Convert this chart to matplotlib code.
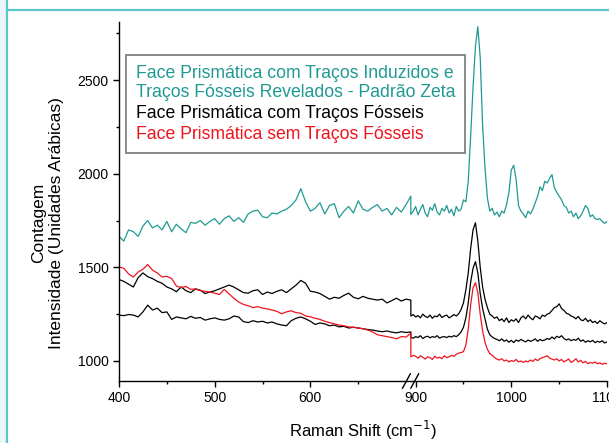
import numpy as np
import matplotlib
matplotlib.use('Agg')
import matplotlib.pyplot as plt
from matplotlib.lines import Line2D
from matplotlib.patches import Rectangle

plt.rcParams['font.family'] = ['Liberation Sans', 'DejaVu Sans']

# -------------------------------
# Data
# -------------------------------
# x grid: left part 400-705, right part 895-1100 (the axis is broken in between)
x_left = np.arange(400, 706, 5)
x_right = np.arange(895, 1100.1, 2.5)

teal_left = [1665, 1640, 1700, 1690, 1665, 1720, 1750, 1710, 1725, 1700,
             1745, 1690, 1730, 1705, 1685, 1740, 1735, 1750, 1725, 1745,
             1760, 1730, 1760, 1775, 1745, 1765, 1740, 1785, 1800, 1805,
             1770, 1765, 1790, 1785, 1800, 1810, 1830, 1860, 1920, 1850,
             1800, 1815, 1845, 1785, 1830, 1840, 1765, 1800, 1825, 1790,
             1855, 1810, 1800, 1820, 1835, 1800, 1815, 1780, 1820, 1795,
             1835, 1880]
teal_right = [1782, 1800, 1825, 1780, 1810, 1835, 1790, 1770, 1820, 1805,
              1840, 1795, 1780, 1815, 1800, 1830, 1790, 1810, 1775, 1825,
              1800, 1810, 1860, 1850, 1960, 2200, 2460, 2680, 2785, 2620,
              2260, 2030, 1870, 1800, 1815, 1780, 1795, 1770, 1800, 1790,
              1835, 1900, 2020, 2045, 1970, 1830, 1800, 1785, 1765, 1800,
              1785, 1810, 1845, 1880, 1930, 1910, 1960, 1950, 1975, 1995,
              1925, 1900, 1880, 1860, 1830, 1820, 1790, 1800, 1770, 1790,
              1760, 1775, 1800, 1830, 1815, 1770, 1780, 1760, 1755, 1760,
              1745, 1735, 1745]

black1_left = [1435, 1425, 1410, 1395, 1445, 1470, 1450, 1440, 1425, 1415,
               1395, 1385, 1370, 1395, 1375, 1365, 1385, 1378, 1360, 1368,
               1375, 1385, 1395, 1405, 1395, 1380, 1365, 1362, 1375, 1380,
               1355, 1368, 1360, 1372, 1380, 1365, 1385, 1405, 1430, 1415,
               1372, 1368, 1360, 1345, 1330, 1340, 1335, 1350, 1362, 1340,
               1332, 1345, 1335, 1330, 1325, 1330, 1310, 1322, 1335, 1320,
               1330, 1325]
black1_right = [1240, 1248, 1235, 1242, 1230, 1250, 1238, 1232, 1245, 1228,
                1240, 1236, 1250, 1232, 1240, 1245, 1230, 1238, 1248, 1240,
                1252, 1275, 1310, 1380, 1470, 1600, 1700, 1738, 1640, 1500,
                1395, 1330, 1285, 1250, 1240, 1228, 1235, 1215, 1225, 1210,
                1230, 1205, 1220, 1212, 1225, 1205, 1230, 1240, 1225, 1245,
                1230, 1220, 1240, 1235, 1225, 1245, 1238, 1250, 1255, 1270,
                1285, 1290, 1305, 1280, 1270, 1255, 1250, 1240, 1235, 1225,
                1238, 1220, 1215, 1228, 1210, 1220, 1205, 1212, 1200, 1215,
                1205, 1198, 1205]

black2_left = [1245, 1242, 1248, 1245, 1235, 1262, 1298, 1272, 1282, 1258,
               1262, 1222, 1235, 1230, 1225, 1238, 1228, 1232, 1218, 1225,
               1230, 1222, 1218, 1225, 1240, 1235, 1210, 1205, 1215, 1208,
               1212, 1203, 1208, 1198, 1192, 1188, 1215, 1228, 1235, 1225,
               1212, 1195, 1203, 1198, 1188, 1192, 1182, 1185, 1176, 1180,
               1176, 1172, 1168, 1165, 1160, 1156, 1160, 1154, 1150, 1156,
               1152, 1155]
black2_right = [1125, 1122, 1130, 1125, 1135, 1120, 1128, 1132, 1124, 1130,
                1126, 1135, 1122, 1128, 1130, 1125, 1132, 1128, 1135, 1130,
                1140, 1155, 1180, 1230, 1310, 1420, 1495, 1530, 1470, 1360,
                1280, 1225, 1170, 1140, 1128, 1120, 1115, 1108, 1118, 1105,
                1112, 1100, 1110, 1098, 1112, 1105, 1115, 1108, 1102, 1112,
                1105, 1110, 1118, 1105, 1115, 1108, 1112, 1120, 1115, 1128,
                1118, 1132, 1125, 1135, 1120, 1112, 1118, 1108, 1115, 1110,
                1122, 1105, 1112, 1100, 1108, 1102, 1110, 1098, 1105, 1100,
                1108, 1096, 1102]

red_left = [1502, 1495, 1465, 1448, 1475, 1490, 1515, 1485, 1470, 1448,
            1452, 1440, 1400, 1392, 1398, 1382, 1385, 1375, 1372, 1368,
            1362, 1355, 1382, 1358, 1335, 1315, 1302, 1295, 1285, 1290,
            1282, 1278, 1272, 1265, 1252, 1262, 1268, 1258, 1255, 1240,
            1236, 1228, 1222, 1212, 1205, 1198, 1192, 1188, 1182, 1180,
            1176, 1172, 1165, 1155, 1140, 1135, 1130, 1125, 1118, 1130,
            1128, 1148]
red_right = [1022, 1030, 1025, 1015, 1028, 1020, 1010, 1022, 1018, 1008,
             1025, 1015, 1020, 1012, 1028, 1018, 1022, 1030, 1025, 1035,
             1042, 1045, 1050, 1085, 1170, 1300, 1390, 1418, 1365, 1250,
             1160, 1100, 1062, 1040, 1030, 1018, 1010, 1005, 1012, 1000,
             1005, 995, 1002, 998, 1008, 995, 1000, 992, 1000, 995,
             1005, 998, 1010, 1002, 1012, 1018, 1022, 1028, 1015, 1010,
             1005, 1012, 1000, 1008, 995, 1002, 1010, 992, 1000, 1012,
             995, 1003, 990, 998, 985, 992, 988, 995, 985, 990,
             982, 988, 985]

labels = ['Face Prismática com Traços Induzidos e\nTraços Fósseis Revelados - Padrão Zeta',
          'Face Prismática com Traços Fósseis',
          'Face Prismática sem Traços Fósseis']

TEAL = '#1f9a93'
RED = '#f0141e'
FRAME = '#5cc6d0'

GAP_LO, GAP_HI = 705, 895


# broken x axis: squeeze the 705-895 gap to nothing
def fwd(x):
    x = np.asarray(x, dtype=float)
    return np.where(x <= GAP_LO, x, np.where(x >= GAP_HI, x - (GAP_HI - GAP_LO), GAP_LO))


def inv(u):
    u = np.asarray(u, dtype=float)
    return np.where(u <= GAP_LO, u, u + (GAP_HI - GAP_LO))


x_all = np.concatenate([x_left, x_right])

fig = plt.figure(figsize=(6.09, 4.43), dpi=100)
ax = fig.add_axes([119 / 609, 1 - 381 / 443, 488 / 609, 359 / 443])
ax.set_xscale('function', functions=(fwd, inv))

ax.plot(x_all, teal_left + teal_right, color=TEAL, lw=0.9)
ax.plot(x_all, black1_left + black1_right, color='black', lw=0.9)
ax.plot(x_all, black2_left + black2_right, color='black', lw=0.9)
ax.plot(x_all, red_left + red_right, color=RED, lw=0.9)

ax.set_xlim(400, 1100)
ax.set_ylim(893, 2810)
ax.set_xticks([400, 500, 600, 900, 1000, 1100])
ax.set_xticks([450, 550, 650, 950, 1050], minor=True)
ax.set_xticklabels(['400', '500', '600', '900', '1000', '1100'])
ax.set_yticks([1000, 1500, 2000, 2500])
ax.set_yticks([1250, 1750, 2250, 2750], minor=True)

ax.spines['top'].set_visible(False)
ax.spines['right'].set_visible(False)
for s in ['left', 'bottom']:
    ax.spines[s].set_linewidth(1.0)
ax.tick_params(which='major', direction='out', length=4, width=1.0, labelsize=10)
ax.tick_params(which='minor', direction='out', length=2.5, width=1.0)

ax.set_xlabel('Raman Shift (cm$^{-1}$)', fontsize=12, labelpad=10)
ax.set_ylabel('Contagem\nIntensidade (Unidades Arábicas)', fontsize=12.5,
              linespacing=1.25)
ax.yaxis.set_label_coords(-0.113, 0.44)

# break marks on the x axis
for xf in [0.589, 0.606]:
    ax.plot([xf - 0.008, xf + 0.008], [-0.02, 0.02], color='black', lw=1.0,
            transform=ax.transAxes, clip_on=False)

# legend: coloured text only
handles = [Line2D([], [], linestyle='none') for _ in labels]
leg = ax.legend(handles, labels, loc='upper left', bbox_to_anchor=(0.014, 0.908),
                borderaxespad=0, fontsize=12.7, handlelength=0, handletextpad=0,
                labelcolor=[TEAL, 'black', RED], frameon=True, fancybox=False,
                edgecolor='#555555', borderpad=0.55, labelspacing=0.22)
leg.get_frame().set_linewidth(1.2)
for t in leg.get_texts():
    t.set_linespacing(1.2)

# screenshot frame around the chart
fig.add_artist(Rectangle((0, 0), 6 / 609, 1, transform=fig.transFigure,
                         color='#eef4f7', zorder=0))
fig.add_artist(Line2D([7 / 609, 1], [1 - 10 / 443, 1 - 10 / 443], transform=fig.transFigure,
                      color=FRAME, lw=1.6))
fig.add_artist(Line2D([7 / 609, 7 / 609], [0, 1], transform=fig.transFigure,
                      color=FRAME, lw=1.6))

plt.savefig('out.png', dpi=100)
plt.close()
